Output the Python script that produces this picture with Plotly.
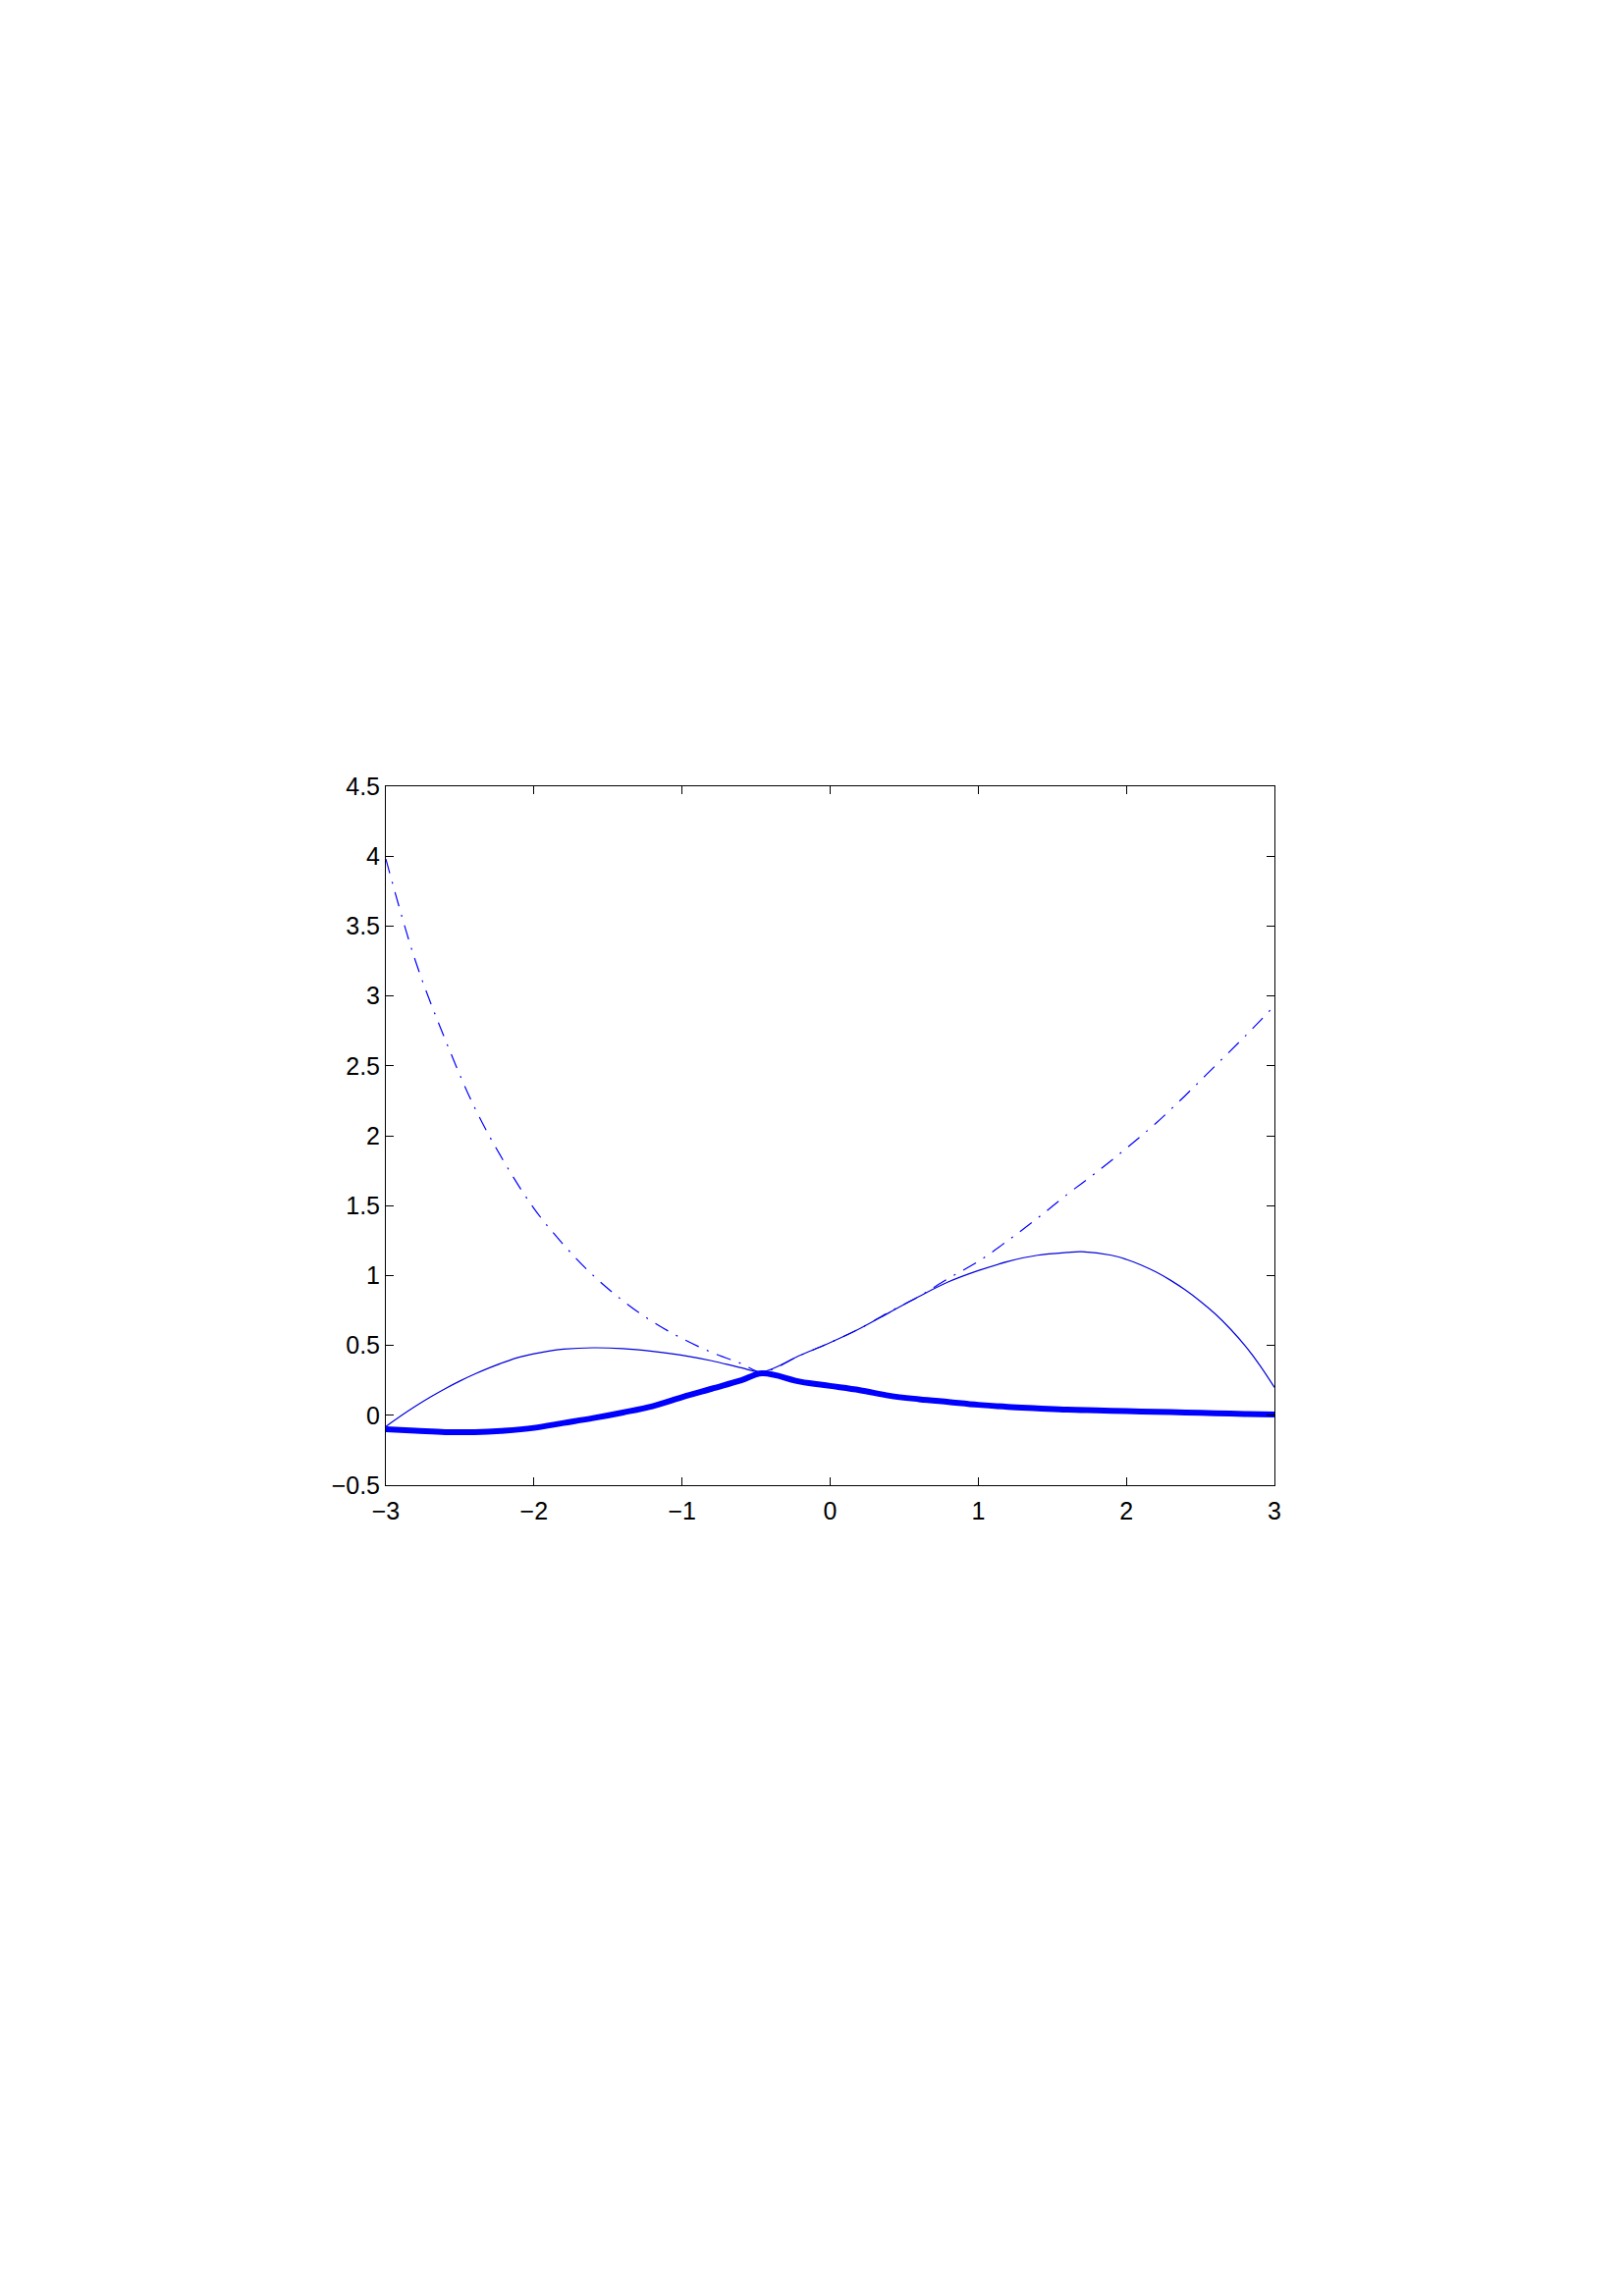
import plotly.graph_objects as go

# values
x_env = [-3.0, -2.8, -2.6, -2.4, -2.2, -2.0, -1.8, -1.6, -1.4, -1.2, -1.0, -0.8, -0.6, -0.46,
         -0.2, 0.0, 0.2, 0.4, 0.6, 0.8, 1.0, 1.2, 1.4, 1.6, 1.8, 2.0, 2.2, 2.4, 2.6, 2.8, 3.0]
y_env = [3.98, 3.25, 2.69, 2.20, 1.81, 1.48, 1.22, 1.00, 0.82, 0.67, 0.55, 0.45, 0.37, 0.31,
         0.43, 0.52, 0.62, 0.74, 0.85, 0.98, 1.10, 1.25, 1.41, 1.58, 1.74, 1.91, 2.09, 2.29, 2.50, 2.71, 2.93]

x_thin = [-3.0, -2.9, -2.8, -2.7, -2.6, -2.5, -2.4, -2.3, -2.2, -2.1, -2.0, -1.9, -1.8, -1.6, -1.4,
          -1.2, -1.0, -0.8, -0.6, -0.46, -0.2, 0.0, 0.2, 0.4, 0.6, 0.8, 1.0, 1.2, 1.4, 1.6, 1.7,
          1.9, 2.0, 2.1, 2.2, 2.3, 2.4, 2.5, 2.6, 2.7, 2.8, 2.9, 3.0]
y_thin = [-0.08, -0.005, 0.065, 0.13, 0.19, 0.245, 0.295, 0.34, 0.38, 0.415, 0.44, 0.46, 0.473, 0.483, 0.477,
          0.458, 0.43, 0.39, 0.34, 0.31, 0.43, 0.52, 0.62, 0.735, 0.85, 0.955, 1.035, 1.10, 1.145, 1.165, 1.17,
          1.145, 1.115, 1.075, 1.025, 0.965, 0.895, 0.815, 0.725, 0.62, 0.50, 0.36, 0.20]

x_thick = [-3.0, -2.8, -2.6, -2.4, -2.2, -2.0, -1.8, -1.6, -1.4, -1.2, -1.0, -0.8, -0.6, -0.46,
           -0.2, 0.0, 0.2, 0.4, 0.6, 0.8, 1.0, 1.2, 1.4, 1.6, 1.8, 2.0, 2.2, 2.4, 2.6, 2.8, 3.0]
y_thick = [-0.10, -0.11, -0.12, -0.12, -0.11, -0.09, -0.055, -0.02, 0.02, 0.065, 0.13, 0.19, 0.25, 0.30,
           0.24, 0.21, 0.18, 0.14, 0.115, 0.095, 0.075, 0.06, 0.05, 0.04, 0.035, 0.03, 0.025, 0.02, 0.015, 0.01, 0.005]

x_ticks = [-3, -2, -1, 0, 1, 2, 3]
y_ticks = [-0.5, 0, 0.5, 1, 1.5, 2, 2.5, 3, 3.5, 4, 4.5]

fig = go.Figure()

fig.add_trace(go.Scatter(x=x_env, y=y_env, mode='lines',
                         line=dict(color='#0000ff', width=1.2, dash='15px,9px,2px,9px', shape='spline')))
fig.add_trace(go.Scatter(x=x_thin, y=y_thin, mode='lines',
                         line=dict(color='#0000dd', width=1.2, shape='spline')))
fig.add_trace(go.Scatter(x=x_thick, y=y_thick, mode='lines',
                         line=dict(color='#0000ff', width=6, shape='spline')))

axis_style = dict(
    showgrid=False, zeroline=False,
    showline=True, linecolor='black', linewidth=1, mirror='ticks',
    ticks='inside', ticklen=8, tickcolor='black', tickwidth=1,
    tickfont=dict(family='Liberation Sans, Arial', size=25, color='black'),
)

fig.update_xaxes(range=[-3, 3], tickvals=x_ticks, ticklabelstandoff=4, **axis_style)
fig.update_yaxes(range=[-0.5, 4.5], tickvals=y_ticks, ticklabelstandoff=0, **axis_style)

# page body adds ~8px offset, so margins are trimmed to land on the reference axes box
fig.update_layout(
    width=1653, height=2339, autosize=False,
    margin=dict(l=385, r=363, t=793, b=834),
    plot_bgcolor='white', paper_bgcolor='white',
    showlegend=False,
)

fig.write_html("out.html")
